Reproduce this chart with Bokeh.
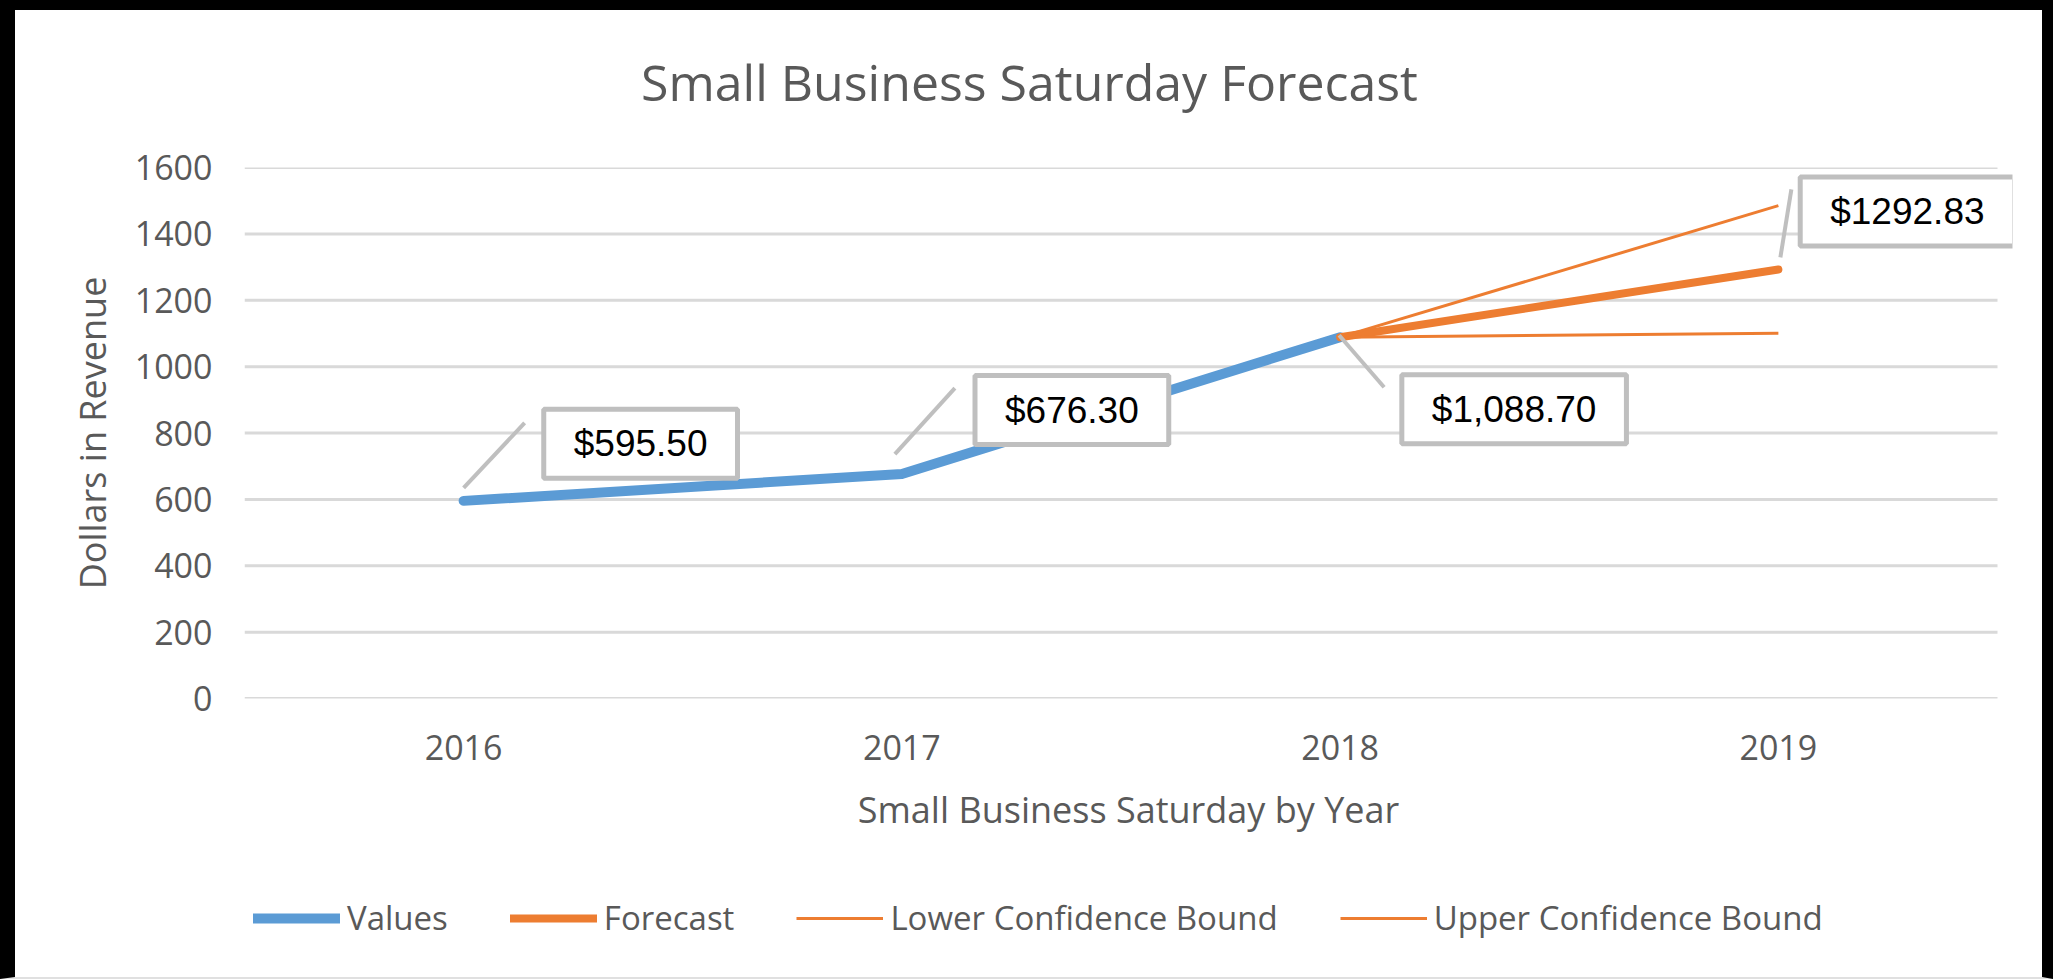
from bokeh.plotting import figure
from bokeh.layouts import column
from bokeh.models import Range1d, FixedTicker, Label, Legend, LegendItem
from bokeh.embed import file_html
from bokeh.resources import INLINE

# ---------------- data ----------------
years = ["2016", "2017", "2018", "2019"]
values = [595.50, 676.30, 1088.70]
forecast = [1088.70, 1292.83]
lower_bound = [1088.70, 1100.70]
upper_bound = [1088.70, 1484.96]
label_texts = ["$595.50", "$676.30", "$1,088.70", "$1292.83"]
label_values = [595.50, 676.30, 1088.70, 1292.83]
y_ticks = [0, 200, 400, 600, 800, 1000, 1200, 1400, 1600]
series_names = ["Values", "Forecast", "Lower Confidence Bound", "Upper Confidence Bound"]
title_text = "Small Business Saturday Forecast"

# ---------------- layout constants (page px) ----------------
PAGE_W, PAGE_H = 2053, 979
BL, BT, BR, BB = 15, 10, 11, 2           # dark outer frame
W, H = PAGE_W - BL - BR, PAGE_H - BT - BB
HT = 120                                  # title strip height
H1 = 750                                  # main chart height
H2 = H - HT - H1                          # legend strip height
FL = 244 - BL                             # plot area left (canvas)
PR = 1997 - BL                            # plot area right (gridline end)
FR = 2012 - BL                            # frame right (room for last label)
FT = 167 - BT - HT
FB = 698 - BT - HT
Y_MAX = 1600
px_x = (PR - FL) / len(years)             # px per category unit
px_y = (FB - FT) / Y_MAX                  # px per value unit
x_lo = -0.5
x_hi = x_lo + (FR - FL) / px_x

GREY_TXT = "#595959"
BLUE = "#5B9BD5"
ORANGE = "#ED7D31"
GRID = "#D9D9D9"
LBL_BORDER = "#BFBFBF"
FONT = "Open Sans"


def strip(height, xr, yr):
    f = figure(width=W, height=height, output_backend="svg", toolbar_location=None,
               x_range=xr, y_range=yr, x_axis_type=None, y_axis_type=None,
               min_border_left=FL, min_border_right=W - FR, min_border_top=0, min_border_bottom=0)
    f.outline_line_color = None
    f.border_fill_color = "white"
    f.background_fill_color = "white"
    return f


# ---------------- title strip ----------------
p0 = strip(HT, Range1d(BL + FL, BL + FR), Range1d(BT + HT, BT))
p0.add_layout(Label(x=1029, y=81, text=title_text, text_font=FONT, text_font_size="50px",
                    text_color=GREY_TXT, text_align="center", text_baseline="middle"))

# ---------------- main chart ----------------
p = figure(width=W, height=H1, output_backend="svg", toolbar_location=None,
           x_range=Range1d(x_lo, x_hi), y_range=Range1d(0, Y_MAX),
           min_border_left=FL, min_border_right=W - FR,
           min_border_top=FT, min_border_bottom=H1 - FB)
p.border_fill_color = "white"
p.background_fill_color = "white"
p.outline_line_color = None

xi = list(range(len(years)))
p.xaxis.ticker = FixedTicker(ticks=xi)
p.xaxis.major_label_overrides = {i: y for i, y in enumerate(years)}
p.yaxis.ticker = FixedTicker(ticks=y_ticks)
for ax in (p.xaxis[0], p.yaxis[0]):
    ax.axis_line_color = None
    ax.major_tick_line_color = None
    ax.minor_tick_line_color = None
    ax.major_tick_out = 0
    ax.major_tick_in = 0
    ax.major_label_text_font = FONT
    ax.major_label_text_font_size = "34px"
    ax.major_label_text_color = GREY_TXT
    ax.axis_label_text_font = FONT
    ax.axis_label_text_font_size = "36px"
    ax.axis_label_text_font_style = "normal"
    ax.axis_label_text_color = GREY_TXT
p.xaxis.axis_label = "Small Business Saturday by Year"
p.yaxis.axis_label = "Dollars in Revenue"
p.xaxis.major_label_standoff = 36
p.xaxis.axis_label_standoff = 22
p.yaxis.major_label_standoff = 32
p.yaxis.axis_label_standoff = 15

# horizontal gridlines limited to the plot area
p.xgrid.grid_line_color = None
p.ygrid.grid_line_color = None
p.segment([x_lo] * len(y_ticks), y_ticks, [len(years) - 0.5] * len(y_ticks), y_ticks,
          line_color=GRID, line_width=3)

styles = [dict(line_color=BLUE, line_width=10, line_cap="round", line_join="round"),
          dict(line_color=ORANGE, line_width=8, line_cap="round", line_join="round"),
          dict(line_color=ORANGE, line_width=3),
          dict(line_color=ORANGE, line_width=3)]
series = [(xi[:3], values), (xi[2:], forecast), (xi[2:], lower_bound), (xi[2:], upper_bound)]
for (xs, ys), st in zip(series, styles):
    p.line(xs, ys, **st)

# data labels (offsets in px from their point)
box_off = [(177, 57), (170, 64), (174, -72), (129, 58)]
lead_off = [((0, 13), (61, 78)), ((-7, 20), (53, 86)), ((-1, 2), (44, -50)), ((2, 12), (13, 80))]
x0s, y0s, x1s, y1s = [], [], [], []
for i, v in enumerate(label_values):
    (a, b), (c, d) = lead_off[i]
    x0s.append(i + a / px_x); y0s.append(v + b / px_y)
    x1s.append(i + c / px_x); y1s.append(v + d / px_y)
p.segment(x0s, y0s, x1s, y1s, line_color=LBL_BORDER, line_width=4)

for i, (t, v) in enumerate(zip(label_texts, label_values)):
    dx, dy = box_off[i]
    p.add_layout(Label(x=i, y=v, x_offset=dx, y_offset=dy, text=t,
                       text_font="Liberation Sans", text_font_size="37px", text_color="black",
                       text_align="center", text_baseline="middle",
                       background_fill_color="white", border_line_color=LBL_BORDER,
                       border_line_width=5,
                       padding=dict(left=30, right=30, top=14, bottom=14)))

# ---------------- legend strip ----------------
p2 = strip(H2, Range1d(0, 1), Range1d(0, 1))
items = []
for name, (xs, ys), st in zip(series_names, series, styles):
    r = p2.line(xs, ys, **st)          # same series; lies outside this strip's view
    items.append(LegendItem(label=name, renderers=[r]))
legend = Legend(items=items, orientation="horizontal",
                location=(253 - BL - FL, (PAGE_H - BB - 918) - 22),
                glyph_width=87, glyph_height=20, label_standoff=7, spacing=62,
                padding=0, margin=0, border_line_color=None, background_fill_alpha=0,
                label_text_font=FONT, label_text_font_size="33px", label_text_color=GREY_TXT)
p2.add_layout(legend, "center")

page = column(p0, p, p2, width=PAGE_W, height=PAGE_H, spacing=0,
              styles={"border-left": f"{BL}px solid #000", "border-top": f"{BT}px solid #000",
                      "border-right": f"{BR}px solid #000",
                      "border-bottom": f"{BB}px solid #e0e0e0",
                      "box-sizing": "border-box", "background-color": "white"})

open("out.html", "w").write(file_html(page, INLINE))
